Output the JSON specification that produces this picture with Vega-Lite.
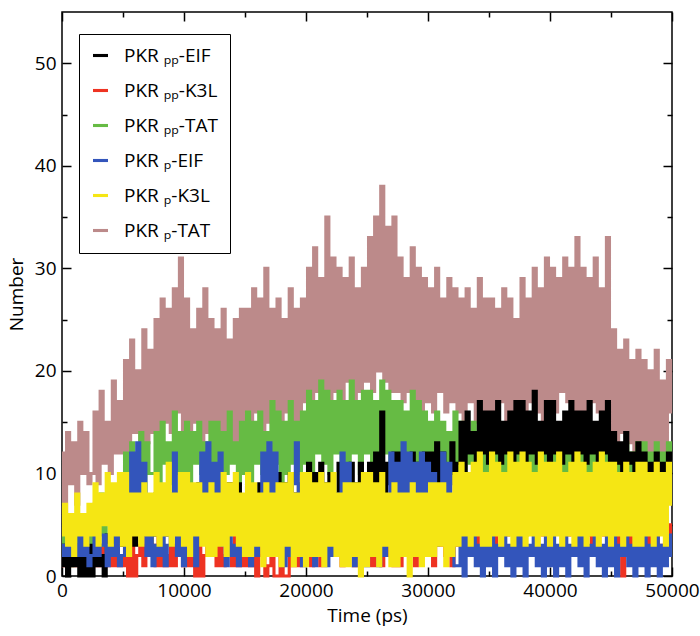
{
"$schema": "https://vega.github.io/schema/vega-lite/v6.json",
"width": 610, "height": 564,
"autosize": {"type": "none"},
"padding": {"left": 62, "top": 12, "right": 28, "bottom": 60},
"background": "white",
"config": {"view": {"stroke": "black", "strokeWidth": 1.5}, "font": "Open Sans", "line": {"interpolate": "step", "strokeWidth": 3.1, "strokeCap": "butt"}},
"data": {"values": [
{"t":0,"a":1,"b":2,"c":4,"d":3,"e":4,"f":12},
{"t":250,"a":3,"b":1,"c":2,"d":2,"e":7,"f":6},
{"t":500,"a":0,"b":3,"c":5,"d":4,"e":3,"f":14},
{"t":750,"a":2,"b":1,"c":1,"d":2,"e":6,"f":9},
{"t":1000,"a":1,"b":4,"c":3,"d":3,"e":2,"f":13},
{"t":1250,"a":3,"b":1,"c":5,"d":2,"e":8,"f":7},
{"t":1500,"a":0,"b":2,"c":2,"d":4,"e":4,"f":15},
{"t":1750,"a":2,"b":1,"c":4,"d":2,"e":6,"f":10},
{"t":2000,"a":0,"b":3,"c":1,"d":4,"e":3,"f":14},
{"t":2250,"a":3,"b":1,"c":5,"d":1,"e":7,"f":9},
{"t":2500,"a":0,"b":1,"c":3,"d":2,"e":4,"f":10},
{"t":2750,"a":3,"b":4,"c":7,"d":4,"e":9,"f":16},
{"t":3000,"a":1,"b":1,"c":4,"d":2,"e":3,"f":9},
{"t":3250,"a":2,"b":3,"c":8,"d":3,"e":8,"f":18},
{"t":3500,"a":0,"b":2,"c":3,"d":4,"e":5,"f":11},
{"t":3750,"a":4,"b":1,"c":6,"d":1,"e":10,"f":15},
{"t":4000,"a":2,"b":4,"c":8,"d":3,"e":3,"f":10},
{"t":4250,"a":5,"b":1,"c":4,"d":2,"e":9,"f":19},
{"t":4500,"a":3,"b":3,"c":7,"d":4,"e":4,"f":12},
{"t":4750,"a":5,"b":1,"c":5,"d":1,"e":10,"f":17},
{"t":5000,"a":3,"b":1,"c":8,"d":2,"e":3,"f":12},
{"t":5250,"a":6,"b":3,"c":12,"d":4,"e":10,"f":21},
{"t":5500,"a":4,"b":0,"c":7,"d":7,"e":2,"f":11},
{"t":5750,"a":7,"b":4,"c":13,"d":12,"e":8,"f":23},
{"t":6000,"a":3,"b":0,"c":9,"d":8,"e":4,"f":14},
{"t":6250,"a":5,"b":2,"c":11,"d":13,"e":8,"f":20},
{"t":6500,"a":7,"b":3,"c":14,"d":7,"e":3,"f":12},
{"t":6750,"a":4,"b":1,"c":8,"d":11,"e":9,"f":24},
{"t":7000,"a":6,"b":4,"c":13,"d":2,"e":4,"f":13},
{"t":7250,"a":3,"b":2,"c":10,"d":4,"e":8,"f":22},
{"t":7500,"a":4,"b":3,"c":10,"d":1,"e":4,"f":14},
{"t":7750,"a":8,"b":1,"c":14,"d":3,"e":10,"f":25},
{"t":8000,"a":5,"b":4,"c":9,"d":2,"e":3,"f":13},
{"t":8250,"a":7,"b":1,"c":15,"d":4,"e":9,"f":27},
{"t":8500,"a":4,"b":2,"c":11,"d":1,"e":4,"f":15},
{"t":8750,"a":8,"b":1,"c":13,"d":3,"e":11,"f":26},
{"t":9000,"a":6,"b":3,"c":9,"d":6,"e":3,"f":14},
{"t":9250,"a":5,"b":1,"c":16,"d":12,"e":8,"f":28},
{"t":9500,"a":8,"b":4,"c":10,"d":2,"e":4,"f":16},
{"t":9750,"a":4,"b":2,"c":14,"d":4,"e":10,"f":31},
{"t":10000,"a":5,"b":1,"c":10,"d":1,"e":3,"f":14},
{"t":10250,"a":9,"b":4,"c":15,"d":3,"e":10,"f":27},
{"t":10500,"a":6,"b":1,"c":9,"d":2,"e":2,"f":13},
{"t":10750,"a":8,"b":3,"c":14,"d":4,"e":9,"f":24},
{"t":11000,"a":5,"b":0,"c":11,"d":1,"e":4,"f":15},
{"t":11250,"a":9,"b":4,"c":15,"d":8,"e":9,"f":26},
{"t":11500,"a":7,"b":0,"c":10,"d":12,"e":3,"f":13},
{"t":11750,"a":5,"b":2,"c":13,"d":7,"e":8,"f":28},
{"t":12000,"a":8,"b":3,"c":9,"d":13,"e":2,"f":14},
{"t":12250,"a":6,"b":2,"c":15,"d":8,"e":9,"f":25},
{"t":12500,"a":6,"b":3,"c":11,"d":11,"e":2,"f":13},
{"t":12750,"a":9,"b":1,"c":15,"d":6,"e":8,"f":24},
{"t":13000,"a":5,"b":4,"c":9,"d":12,"e":3,"f":12},
{"t":13250,"a":8,"b":1,"c":14,"d":3,"e":10,"f":26},
{"t":13500,"a":6,"b":2,"c":10,"d":1,"e":2,"f":14},
{"t":13750,"a":9,"b":3,"c":16,"d":4,"e":9,"f":23},
{"t":14000,"a":5,"b":1,"c":11,"d":2,"e":4,"f":13},
{"t":14250,"a":7,"b":4,"c":13,"d":3,"e":10,"f":25},
{"t":14500,"a":9,"b":1,"c":9,"d":1,"e":3,"f":12},
{"t":14750,"a":6,"b":2,"c":15,"d":4,"e":8,"f":26},
{"t":15000,"a":5,"b":1,"c":10,"d":2,"e":2,"f":15},
{"t":15250,"a":9,"b":3,"c":16,"d":3,"e":10,"f":26},
{"t":15500,"a":6,"b":1,"c":9,"d":1,"e":2,"f":14},
{"t":15750,"a":8,"b":4,"c":15,"d":4,"e":9,"f":28},
{"t":16000,"a":5,"b":0,"c":11,"d":2,"e":3,"f":16},
{"t":16250,"a":9,"b":2,"c":16,"d":7,"e":8,"f":27},
{"t":16500,"a":7,"b":3,"c":10,"d":12,"e":1,"f":14},
{"t":16750,"a":6,"b":0,"c":14,"d":6,"e":9,"f":30},
{"t":17000,"a":9,"b":1,"c":12,"d":13,"e":2,"f":15},
{"t":17250,"a":5,"b":4,"c":17,"d":8,"e":8,"f":26},
{"t":17500,"a":6,"b":0,"c":11,"d":12,"e":2,"f":15},
{"t":17750,"a":10,"b":0,"c":16,"d":7,"e":9,"f":27},
{"t":18000,"a":7,"b":3,"c":9,"d":3,"e":1,"f":14},
{"t":18250,"a":9,"b":0,"c":15,"d":1,"e":9,"f":25},
{"t":18500,"a":6,"b":0,"c":10,"d":4,"e":3,"f":16},
{"t":18750,"a":10,"b":4,"c":17,"d":2,"e":10,"f":28},
{"t":19000,"a":8,"b":1,"c":11,"d":9,"e":1,"f":15},
{"t":19250,"a":6,"b":2,"c":15,"d":13,"e":8,"f":26},
{"t":19500,"a":9,"b":1,"c":10,"d":3,"e":2,"f":14},
{"t":19750,"a":7,"b":3,"c":16,"d":1,"e":10,"f":27},
{"t":20000,"a":7,"b":2,"c":11,"d":4,"e":1,"f":17},
{"t":20250,"a":11,"b":5,"c":18,"d":2,"e":10,"f":30},
{"t":20500,"a":8,"b":1,"c":10,"d":3,"e":2,"f":16},
{"t":20750,"a":10,"b":6,"c":17,"d":1,"e":9,"f":32},
{"t":21000,"a":7,"b":3,"c":12,"d":4,"e":2,"f":18},
{"t":21250,"a":11,"b":1,"c":19,"d":2,"e":10,"f":29},
{"t":21500,"a":9,"b":5,"c":11,"d":3,"e":1,"f":17},
{"t":21750,"a":7,"b":2,"c":18,"d":1,"e":9,"f":35},
{"t":22000,"a":10,"b":6,"c":10,"d":4,"e":3,"f":16},
{"t":22250,"a":8,"b":3,"c":17,"d":2,"e":10,"f":31},
{"t":22500,"a":8,"b":3,"c":12,"d":3,"e":2,"f":18},
{"t":22750,"a":11,"b":6,"c":18,"d":8,"e":8,"f":30},
{"t":23000,"a":7,"b":1,"c":10,"d":12,"e":1,"f":17},
{"t":23250,"a":10,"b":5,"c":17,"d":6,"e":9,"f":29},
{"t":23500,"a":8,"b":2,"c":11,"d":11,"e":1,"f":19},
{"t":23750,"a":11,"b":6,"c":19,"d":3,"e":9,"f":31},
{"t":24000,"a":9,"b":1,"c":12,"d":1,"e":2,"f":17},
{"t":24250,"a":7,"b":4,"c":17,"d":4,"e":9,"f":28},
{"t":24500,"a":11,"b":3,"c":10,"d":2,"e":0,"f":18},
{"t":24750,"a":8,"b":5,"c":18,"d":3,"e":10,"f":30},
{"t":25000,"a":8,"b":2,"c":12,"d":1,"e":1,"f":19},
{"t":25250,"a":11,"b":5,"c":18,"d":4,"e":10,"f":33},
{"t":25500,"a":7,"b":1,"c":10,"d":2,"e":2,"f":18},
{"t":25750,"a":12,"b":6,"c":17,"d":3,"e":9,"f":35},
{"t":26000,"a":9,"b":3,"c":11,"d":1,"e":1,"f":20},
{"t":26250,"a":16,"b":1,"c":19,"d":4,"e":10,"f":38},
{"t":26500,"a":8,"b":5,"c":12,"d":2,"e":3,"f":19},
{"t":26750,"a":11,"b":2,"c":18,"d":7,"e":8,"f":34},
{"t":27000,"a":9,"b":6,"c":10,"d":12,"e":1,"f":18},
{"t":27250,"a":12,"b":1,"c":17,"d":6,"e":9,"f":35},
{"t":27500,"a":8,"b":4,"c":11,"d":11,"e":1,"f":18},
{"t":27750,"a":12,"b":1,"c":17,"d":7,"e":8,"f":31},
{"t":28000,"a":9,"b":5,"c":10,"d":13,"e":2,"f":17},
{"t":28250,"a":11,"b":2,"c":16,"d":8,"e":8,"f":29},
{"t":28500,"a":8,"b":6,"c":12,"d":12,"e":0,"f":18},
{"t":28750,"a":12,"b":3,"c":18,"d":6,"e":9,"f":32},
{"t":29000,"a":9,"b":1,"c":10,"d":11,"e":2,"f":17},
{"t":29250,"a":11,"b":5,"c":17,"d":7,"e":8,"f":30},
{"t":29500,"a":8,"b":2,"c":9,"d":12,"e":1,"f":16},
{"t":29750,"a":12,"b":4,"c":16,"d":8,"e":8,"f":29},
{"t":30000,"a":9,"b":2,"c":10,"d":11,"e":2,"f":17},
{"t":30250,"a":12,"b":5,"c":15,"d":6,"e":9,"f":28},
{"t":30500,"a":8,"b":1,"c":9,"d":10,"e":2,"f":16},
{"t":30750,"a":13,"b":6,"c":16,"d":3,"e":9,"f":30},
{"t":31000,"a":9,"b":3,"c":11,"d":7,"e":3,"f":18},
{"t":31250,"a":12,"b":5,"c":15,"d":12,"e":9,"f":27},
{"t":31500,"a":10,"b":2,"c":9,"d":6,"e":1,"f":16},
{"t":31750,"a":9,"b":6,"c":14,"d":11,"e":8,"f":29},
{"t":32000,"a":13,"b":1,"c":10,"d":3,"e":2,"f":17},
{"t":32250,"a":10,"b":4,"c":16,"d":1,"e":10,"f":28},
{"t":32500,"a":11,"b":3,"c":10,"d":1,"e":3,"f":16},
{"t":32750,"a":15,"b":7,"c":15,"d":5,"e":11,"f":27},
{"t":33000,"a":10,"b":4,"c":9,"d":0,"e":4,"f":15},
{"t":33250,"a":16,"b":9,"c":14,"d":4,"e":10,"f":28},
{"t":33500,"a":12,"b":5,"c":11,"d":2,"e":3,"f":17},
{"t":33750,"a":14,"b":8,"c":15,"d":5,"e":11,"f":26},
{"t":34000,"a":11,"b":3,"c":10,"d":1,"e":4,"f":15},
{"t":34250,"a":17,"b":10,"c":14,"d":3,"e":12,"f":29},
{"t":34500,"a":12,"b":6,"c":9,"d":0,"e":3,"f":16},
{"t":34750,"a":16,"b":9,"c":15,"d":4,"e":10,"f":27},
{"t":35000,"a":11,"b":4,"c":9,"d":1,"e":3,"f":16},
{"t":35250,"a":16,"b":9,"c":14,"d":4,"e":12,"f":27},
{"t":35500,"a":12,"b":3,"c":8,"d":0,"e":4,"f":15},
{"t":35750,"a":17,"b":10,"c":15,"d":3,"e":11,"f":26},
{"t":36000,"a":11,"b":5,"c":10,"d":2,"e":3,"f":17},
{"t":36250,"a":15,"b":11,"c":14,"d":4,"e":10,"f":28},
{"t":36500,"a":12,"b":4,"c":9,"d":1,"e":4,"f":15},
{"t":36750,"a":16,"b":9,"c":13,"d":3,"e":12,"f":27},
{"t":37000,"a":11,"b":6,"c":8,"d":0,"e":3,"f":16},
{"t":37250,"a":17,"b":10,"c":15,"d":4,"e":11,"f":25},
{"t":37500,"a":12,"b":5,"c":9,"d":1,"e":4,"f":16},
{"t":37750,"a":17,"b":10,"c":14,"d":4,"e":12,"f":29},
{"t":38000,"a":11,"b":4,"c":8,"d":0,"e":3,"f":15},
{"t":38250,"a":16,"b":11,"c":13,"d":3,"e":11,"f":27},
{"t":38500,"a":12,"b":6,"c":9,"d":2,"e":4,"f":17},
{"t":38750,"a":18,"b":9,"c":14,"d":4,"e":10,"f":30},
{"t":39000,"a":11,"b":5,"c":8,"d":1,"e":3,"f":16},
{"t":39250,"a":15,"b":12,"c":14,"d":3,"e":12,"f":28},
{"t":39500,"a":12,"b":4,"c":9,"d":0,"e":4,"f":15},
{"t":39750,"a":17,"b":10,"c":13,"d":4,"e":11,"f":31},
{"t":40000,"a":11,"b":4,"c":9,"d":1,"e":3,"f":17},
{"t":40250,"a":17,"b":11,"c":14,"d":4,"e":11,"f":30},
{"t":40500,"a":12,"b":5,"c":8,"d":0,"e":4,"f":16},
{"t":40750,"a":15,"b":9,"c":13,"d":3,"e":12,"f":29},
{"t":41000,"a":11,"b":6,"c":9,"d":1,"e":3,"f":18},
{"t":41250,"a":16,"b":12,"c":14,"d":4,"e":10,"f":31},
{"t":41500,"a":12,"b":4,"c":8,"d":0,"e":4,"f":17},
{"t":41750,"a":17,"b":10,"c":13,"d":3,"e":11,"f":30},
{"t":42000,"a":11,"b":5,"c":9,"d":2,"e":3,"f":16},
{"t":42250,"a":16,"b":11,"c":14,"d":4,"e":12,"f":33},
{"t":42500,"a":12,"b":5,"c":8,"d":1,"e":4,"f":16},
{"t":42750,"a":16,"b":10,"c":14,"d":4,"e":11,"f":30},
{"t":43000,"a":11,"b":4,"c":9,"d":0,"e":3,"f":15},
{"t":43250,"a":17,"b":11,"c":13,"d":3,"e":10,"f":29},
{"t":43500,"a":12,"b":3,"c":8,"d":2,"e":4,"f":17},
{"t":43750,"a":15,"b":9,"c":14,"d":4,"e":11,"f":31},
{"t":44000,"a":11,"b":5,"c":9,"d":1,"e":3,"f":16},
{"t":44250,"a":16,"b":10,"c":13,"d":3,"e":12,"f":28},
{"t":44500,"a":12,"b":4,"c":8,"d":0,"e":4,"f":15},
{"t":44750,"a":17,"b":11,"c":14,"d":4,"e":11,"f":33},
{"t":45000,"a":10,"b":3,"c":8,"d":1,"e":3,"f":14},
{"t":45250,"a":14,"b":7,"c":13,"d":4,"e":11,"f":24},
{"t":45500,"a":11,"b":2,"c":9,"d":0,"e":4,"f":13},
{"t":45750,"a":13,"b":6,"c":12,"d":3,"e":10,"f":22},
{"t":46000,"a":10,"b":0,"c":8,"d":2,"e":3,"f":14},
{"t":46250,"a":14,"b":5,"c":13,"d":4,"e":11,"f":23},
{"t":46500,"a":11,"b":3,"c":9,"d":1,"e":4,"f":13},
{"t":46750,"a":12,"b":7,"c":12,"d":3,"e":10,"f":21},
{"t":47000,"a":10,"b":2,"c":8,"d":0,"e":3,"f":12},
{"t":47250,"a":13,"b":6,"c":13,"d":4,"e":11,"f":22},
{"t":47500,"a":9,"b":2,"c":8,"d":1,"e":3,"f":12},
{"t":47750,"a":12,"b":5,"c":13,"d":4,"e":11,"f":21},
{"t":48000,"a":8,"b":1,"c":9,"d":0,"e":4,"f":11},
{"t":48250,"a":11,"b":4,"c":12,"d":3,"e":10,"f":20},
{"t":48500,"a":9,"b":2,"c":8,"d":1,"e":3,"f":12},
{"t":48750,"a":12,"b":5,"c":13,"d":4,"e":11,"f":22},
{"t":49000,"a":8,"b":1,"c":9,"d":0,"e":4,"f":11},
{"t":49250,"a":11,"b":3,"c":12,"d":3,"e":10,"f":19},
{"t":49500,"a":9,"b":2,"c":8,"d":1,"e":3,"f":12},
{"t":49750,"a":12,"b":5,"c":13,"d":4,"e":11,"f":21},
{"t":50000,"a":10,"b":3,"c":10,"d":2,"e":7,"f":16}
]},
"transform": [{"fold": ["a", "b", "c", "d", "e", "f"], "as": ["k", "v"]}],
"encoding": {
  "x": {"field": "t", "type": "quantitative", "scale": {"domain": [0, 50000], "nice": false, "zero": false}, "axis": null},
  "y": {"field": "v", "type": "quantitative", "scale": {"domain": [0, 55], "nice": false}, "axis": null},
  "color": {"field": "k", "type": "nominal",
    "scale": {"domain": ["a", "b", "c", "d", "e", "f"], "range": ["#000000", "#ee3322", "#66bb44", "#3355bb", "#f5e614", "#bc8a8a"]},
    "legend": {"orient": "none", "legendX": 17, "legendY": 22, "title": null, "symbolType": "stroke", "symbolSize": 225, "symbolStrokeWidth": 1.5,
      "labelFontSize": 19, "labelFont": "Open Sans", "labelColor": "black", "strokeColor": "black", "fillColor": "white",
      "padding": 12, "rowPadding": 15, "labelOffset": 14,
      "labelExpr": "{'a': 'PKR ₚₚ-EIF', 'b': 'PKR ₚₚ-K3L', 'c': 'PKR ₚₚ-TAT', 'd': 'PKR ₚ-EIF', 'e': 'PKR ₚ-K3L', 'f': 'PKR ₚ-TAT'}[datum.label]"}}
},
"layer": [
  {"transform": [{"filter": "datum.k === 'f'"}], "mark": {"type": "line"},
   "encoding": {
     "x": {"field": "t", "type": "quantitative", "scale": {"domain": [0, 50000], "nice": false, "zero": false},
       "axis": {"orient": "bottom", "values": [0,5000,10000,15000,20000,25000,30000,35000,40000,45000,50000], "format": "d",
         "labelExpr": "datum.value % 10000 === 0 ? datum.label : ''", "labelFlush": false, "labelOverlap": false,
         "tickSize": {"condition": {"test": "datum.value % 10000 === 0", "value": -9}, "value": -5},
         "tickColor": "black", "tickWidth": 1.5, "domain": false, "grid": false, "labelPadding": 14,
         "labelFontSize": 19, "labelColor": "black", "labelFont": "Open Sans",
         "title": "Time (ps)", "titleFontSize": 19, "titleFontWeight": "normal", "titleColor": "black", "titleFont": "Open Sans", "titlePadding": 2}},
     "y": {"field": "v", "type": "quantitative", "scale": {"domain": [0, 55], "nice": false},
       "axis": {"orient": "left", "values": [0,5,10,15,20,25,30,35,40,45,50], "labelExpr": "datum.value % 10 === 0 ? datum.label : ''",
         "labelFlush": false, "labelOverlap": false,
         "tickSize": {"condition": {"test": "datum.value % 10 === 0", "value": -9}, "value": -5},
         "tickColor": "black", "tickWidth": 1.5, "domain": false, "grid": false, "labelPadding": 15,
         "labelFontSize": 19, "labelColor": "black", "labelFont": "Open Sans",
         "title": "Number", "titleFontSize": 19, "titleFontWeight": "normal", "titleColor": "black", "titleFont": "Open Sans", "titlePadding": 8}}
   }},
  {"transform": [{"filter": "datum.k === 'b'"}], "mark": {"type": "line"},
   "encoding": {
     "x": {"field": "t", "type": "quantitative", "scale": {"domain": [0, 50000], "nice": false, "zero": false},
       "axis": {"orient": "top", "values": [0,5000,10000,15000,20000,25000,30000,35000,40000,45000,50000], "labels": false, "title": null,
         "tickSize": {"condition": {"test": "datum.value % 10000 === 0", "value": -9}, "value": -5},
         "tickColor": "black", "tickWidth": 1.5, "domain": false, "grid": false}},
     "y": {"field": "v", "type": "quantitative", "scale": {"domain": [0, 55], "nice": false},
       "axis": {"orient": "right", "values": [0,5,10,15,20,25,30,35,40,45,50], "labels": false, "title": null,
         "tickSize": {"condition": {"test": "datum.value % 10 === 0", "value": -9}, "value": -5},
         "tickColor": "black", "tickWidth": 1.5, "domain": false, "grid": false}}
   }},
  {"transform": [{"filter": "datum.k === 'c'"}], "mark": {"type": "line"}},
  {"transform": [{"filter": "datum.k === 'a'"}], "mark": {"type": "line"}},
  {"transform": [{"filter": "datum.k === 'd'"}], "mark": {"type": "line"}},
  {"transform": [{"filter": "datum.k === 'e'"}], "mark": {"type": "line"}}
],
"resolve": {"axis": {"x": "independent", "y": "independent"}}
}
